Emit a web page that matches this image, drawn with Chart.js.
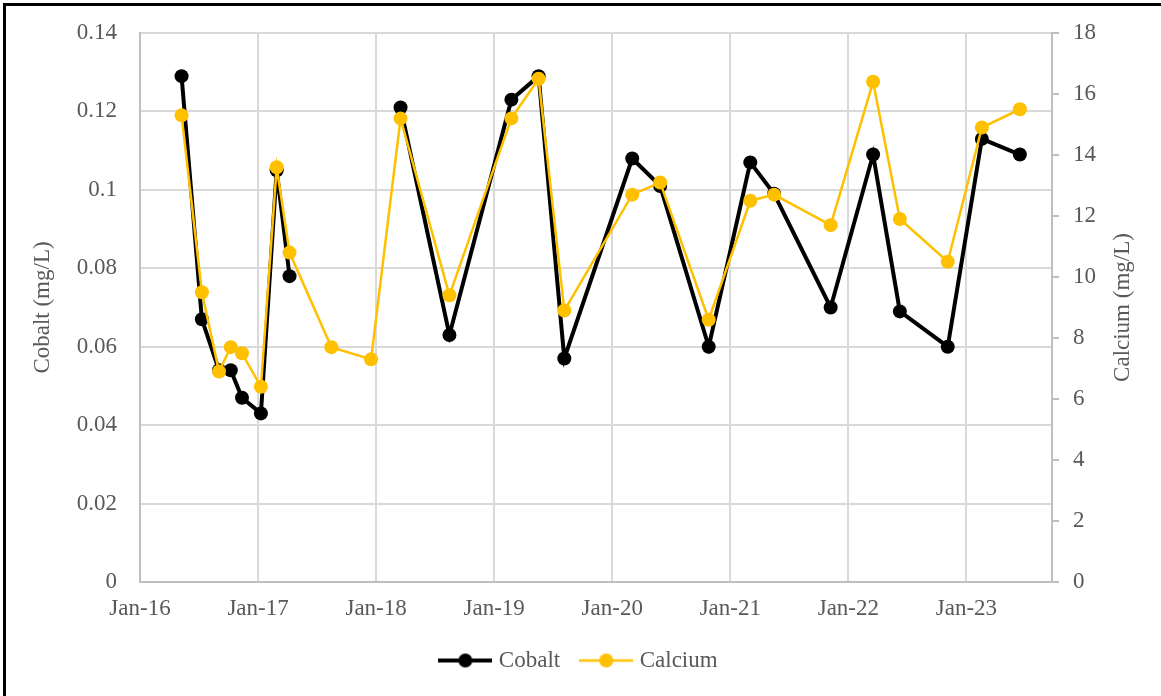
<!DOCTYPE html>
<html>
<head>
<meta charset="utf-8">
<script src="https://cdn.jsdelivr.net/npm/chart.js@4.4.1/dist/chart.umd.min.js"></script>
<style>
  html, body { margin: 0; padding: 0; background: #fff; overflow: hidden; }
  #wrap { position: relative; width: 1161px; height: 696px; }
  #frame { position: absolute; left: 3px; top: 3px; width: 1300px; height: 800px;
           border-top: 3px solid #000; border-left: 3px solid #000; pointer-events: none; }
</style>
</head>
<body>
<div id="wrap">
  <canvas id="chart_cobalt_calcium" width="1161" height="696"></canvas>
  <div id="frame"></div>
</div>
<script>
// sampling dates
const sampleDates = ['2016-05-08', '2016-07-10', '2016-09-02', '2016-10-08', '2016-11-12', '2017-01-10',
    '2017-02-26', '2017-04-07', '2017-08-15', '2017-12-16', '2018-03-16', '2018-08-15', '2019-02-22',
    '2019-05-17', '2019-08-05', '2020-03-02', '2020-05-28', '2020-10-26', '2021-03-02', '2021-05-15',
    '2021-11-07', '2022-03-17', '2022-06-08', '2022-11-04', '2023-02-17', '2023-06-14'];
const cobalt = [0.129, 0.067, 0.054, 0.054, 0.047, 0.043, 0.105, 0.078, null, null, 0.121, 0.063, 0.123,
    0.129, 0.057, 0.108, 0.101, 0.060, 0.107, 0.099, 0.070, 0.109, 0.069, 0.060, 0.113, 0.109];
const calcium = [15.3, 9.5, 6.9, 7.7, 7.5, 6.4, 13.6, 10.8, 7.7, 7.3, 15.2, 9.4, 15.2,
    16.5, 8.9, 12.7, 13.1, 8.6, 12.5, 12.7, 11.7, 16.4, 11.9, 10.5, 14.9, 15.5];
const xTickLabels = ['Jan-16', 'Jan-17', 'Jan-18', 'Jan-19', 'Jan-20', 'Jan-21', 'Jan-22', 'Jan-23'];

// months since Jan 2016
function toMonths(s) {
    const [y, m, d] = s.split('-').map(Number);
    const dim = new Date(y, m, 0).getDate();
    return (y - 2016) * 12 + (m - 1) + (d - 1) / dim;
}
const xs = sampleDates.map(toMonths);

function legendIcon(color, lw) {
    const c = document.createElement('canvas');
    c.width = 54; c.height = 16;
    const g = c.getContext('2d');
    g.strokeStyle = color; g.lineWidth = lw;
    g.beginPath(); g.moveTo(0, 8); g.lineTo(54, 8); g.stroke();
    g.fillStyle = color;
    g.beginPath(); g.arc(27, 8, 7, 0, Math.PI * 2); g.fill();
    return c;
}
const icons = [legendIcon('#000000', 4), legendIcon('#FFC000', 2.5)];

const FONT = '"Liberation Serif", "Times New Roman", serif';
Chart.defaults.font.family = FONT;
Chart.defaults.font.size = 23;
Chart.defaults.color = '#595959';

// right axis title, reading bottom to top like Excel
const rightTitle = {
    id: 'rightTitle',
    afterDraw(c) {
        const s = c.scales.y2, a = c.chartArea, g = c.ctx;
        g.save();
        g.translate(s.right - 38, (a.top + a.bottom) / 2);
        g.rotate(-Math.PI / 2);
        g.font = '23px ' + FONT;
        g.fillStyle = '#595959';
        g.textAlign = 'center';
        g.textBaseline = 'middle';
        g.fillText('Calcium (mg/L)', 0, 0);
        g.restore();
    }
};

function noPad(s) { s.paddingTop = 0; s.paddingBottom = 0; s.paddingLeft = 0; s.paddingRight = 0; }

const ctx = document.getElementById('chart_cobalt_calcium');
const chart = new Chart(ctx, {
    type: 'line',
    data: {
        datasets: [{
            label: 'Cobalt',
            data: xs.map((x, i) => ({x: x, y: cobalt[i]})),
            yAxisID: 'y',
            borderColor: '#000000',
            backgroundColor: '#000000',
            borderWidth: 4,
            pointRadius: 7,
            pointHoverRadius: 7,
            pointBorderWidth: 0,
            spanGaps: false,
            order: 1
        }, {
            label: 'Calcium',
            data: xs.map((x, i) => ({x: x, y: calcium[i]})),
            yAxisID: 'y2',
            borderColor: '#FFC000',
            backgroundColor: '#FFC000',
            borderWidth: 2.5,
            pointRadius: 7,
            pointHoverRadius: 7,
            pointBorderWidth: 0,
            order: 0
        }]
    },
    options: {
        responsive: false,
        animation: false,
        layout: { padding: { left: 0, right: 0, top: 33, bottom: 14 } },
        scales: {
            x: {
                type: 'linear',
                min: 0,
                max: 92.7,
                afterBuildTicks: (s) => { s.ticks = xTickLabels.map((l, i) => ({value: i * 12})); },
                afterFit: (s) => { s.height = 43; noPad(s); },
                ticks: {
                    callback: (v, i) => xTickLabels[i],
                    maxRotation: 0,
                    autoSkip: false,
                    padding: 13
                },
                grid: { color: '#d9d9d9', lineWidth: 2, drawTicks: false },
                border: { color: '#bfbfbf', width: 2 }
            },
            y: {
                position: 'left',
                min: 0,
                max: 0.14,
                afterFit: (s) => { s.width = 140; noPad(s); },
                ticks: {
                    stepSize: 0.02,
                    padding: 23,
                    callback: (v) => String(Math.round(v * 100) / 100)
                },
                grid: { color: '#d9d9d9', lineWidth: 2, drawTicks: false },
                border: { color: '#bfbfbf', width: 2 },
                title: { display: true, text: 'Cobalt (mg/L)', padding: { top: 29, bottom: 0 } }
            },
            y2: {
                position: 'right',
                min: 0,
                max: 18,
                afterFit: (s) => { s.width = 1161 - 1052; noPad(s); },
                ticks: { stepSize: 2, padding: 14 },
                grid: { drawOnChartArea: false, color: '#bfbfbf', lineWidth: 2, tickLength: 7 },
                border: { color: '#bfbfbf', width: 2 }
            }
        },
        plugins: {
            tooltip: { enabled: false },
            legend: {
                position: 'bottom',
                labels: {
                    usePointStyle: true,
                    pointStyleWidth: 44,
                    padding: 24,
                    color: '#595959',
                    generateLabels: (c) => c.data.datasets.map((ds, i) => ({
                        text: ds.label,
                        pointStyle: icons[i],
                        fontColor: '#595959',
                        fillStyle: 'transparent',
                        strokeStyle: 'transparent',
                        lineWidth: 0,
                        hidden: false,
                        datasetIndex: i
                    }))
                }
            }
        }
    },
    plugins: [rightTitle]
});
</script>
</body>
</html>
